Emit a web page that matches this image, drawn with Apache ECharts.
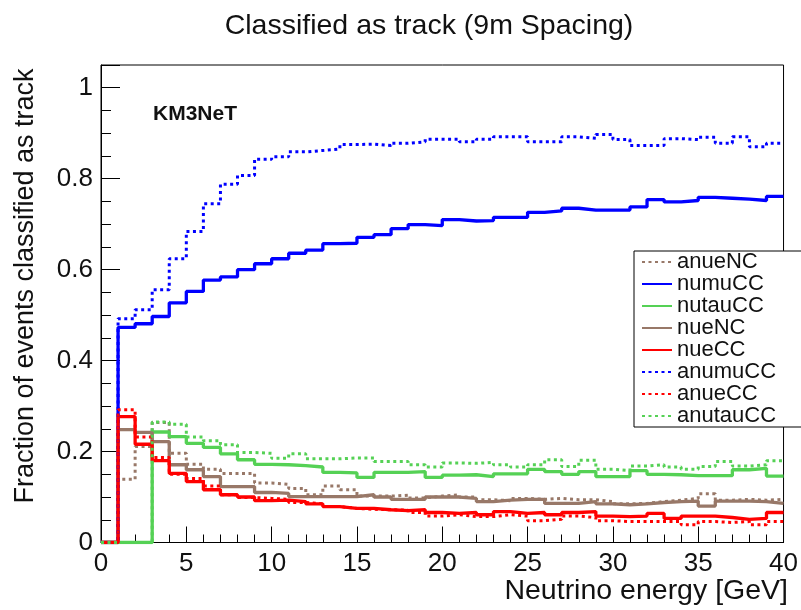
<!DOCTYPE html>
<html>
<head>
<meta charset="utf-8">
<script src="https://cdn.jsdelivr.net/npm/echarts@6.0.0/dist/echarts.min.js"></script>
<style>
html, body { margin: 0; padding: 0; background: #fff; }
#chart { width: 801px; height: 610px; }
</style>
</head>
<body>
<div id="chart"></div>
<script>
// bin low edges, 1 GeV bins from 0 to 40
var binEdges = []
for (var e = 0; e <= 40; e++) binEdges.push(e)

var anueNC = [0, 0.139, 0.211, 0.264, 0.196, 0.172, 0.161, 0.152, 0.152, 0.131,
  0.128, 0.119, 0.105, 0.124, 0.116, 0.102, 0.102, 0.104, 0.098, 0.102,
  0.105, 0.100, 0.094, 0.092, 0.097, 0.095, 0.097, 0.094, 0.094, 0.090,
  0.085, 0.086, 0.090, 0.093, 0.097, 0.107, 0.093, 0.095, 0.093, 0.095]
var numuCC = [0, 0.473, 0.481, 0.497, 0.527, 0.552, 0.577, 0.584, 0.600, 0.613,
  0.624, 0.636, 0.643, 0.657, 0.658, 0.671, 0.677, 0.690, 0.699, 0.697,
  0.710, 0.707, 0.708, 0.715, 0.715, 0.726, 0.729, 0.735, 0.731, 0.731,
  0.731, 0.738, 0.754, 0.749, 0.752, 0.759, 0.757, 0.755, 0.752, 0.761]
var nutauCC = [0, 0, 0, 0.243, 0.233, 0.218, 0.209, 0.195, 0.182, 0.172,
  0.171, 0.169, 0.166, 0.154, 0.153, 0.143, 0.154, 0.154, 0.156, 0.143,
  0.148, 0.149, 0.145, 0.151, 0.151, 0.161, 0.156, 0.150, 0.156, 0.145,
  0.145, 0.158, 0.150, 0.149, 0.147, 0.147, 0.147, 0.160, 0.163, 0.146]
var nueNC = [0, 0.248, 0.242, 0.222, 0.171, 0.160, 0.145, 0.123, 0.123, 0.110,
  0.108, 0.101, 0.101, 0.101, 0.101, 0.105, 0.100, 0.095, 0.095, 0.100,
  0.100, 0.097, 0.090, 0.093, 0.095, 0.095, 0.086, 0.086, 0.090, 0.085,
  0.083, 0.085, 0.088, 0.090, 0.091, 0.080, 0.091, 0.091, 0.090, 0.086]
var nueCC = [0, 0.277, 0.216, 0.180, 0.152, 0.134, 0.116, 0.105, 0.100, 0.092,
  0.093, 0.090, 0.085, 0.079, 0.075, 0.075, 0.072, 0.070, 0.072, 0.066,
  0.064, 0.066, 0.061, 0.068, 0.064, 0.066, 0.061, 0.066, 0.068, 0.058,
  0.057, 0.058, 0.064, 0.053, 0.058, 0.058, 0.055, 0.051, 0.053, 0.066]
var anumuCC = [0, 0.492, 0.512, 0.556, 0.624, 0.684, 0.745, 0.788, 0.807, 0.843,
  0.848, 0.859, 0.862, 0.865, 0.875, 0.876, 0.873, 0.878, 0.881, 0.887,
  0.887, 0.881, 0.887, 0.892, 0.892, 0.881, 0.881, 0.892, 0.889, 0.897,
  0.886, 0.873, 0.873, 0.888, 0.886, 0.891, 0.878, 0.892, 0.870, 0.878]
var anueCC = [0, 0.292, 0.232, 0.187, 0.150, 0.141, 0.124, 0.105, 0.099, 0.097,
  0.095, 0.088, 0.085, 0.079, 0.075, 0.073, 0.072, 0.071, 0.066, 0.058,
  0.061, 0.057, 0.057, 0.061, 0.058, 0.048, 0.051, 0.058, 0.055, 0.048,
  0.046, 0.046, 0.046, 0.046, 0.039, 0.046, 0.044, 0.046, 0.039, 0.046]
var anutauCC = [0, 0, 0, 0.265, 0.260, 0.232, 0.224, 0.215, 0.198, 0.196,
  0.185, 0.195, 0.184, 0.184, 0.186, 0.186, 0.178, 0.178, 0.171, 0.166,
  0.175, 0.174, 0.176, 0.171, 0.166, 0.171, 0.182, 0.167, 0.181, 0.161,
  0.158, 0.168, 0.171, 0.166, 0.161, 0.167, 0.178, 0.168, 0.171, 0.180]

var xTicks = [0, 5, 10, 15, 20, 25, 30, 35, 40]
var yTicks = [0, 0.2, 0.4, 0.6, 0.8, 1]

var FONT = 'Liberation Sans'
var BLUE = '#0000ff'
var RED = '#ff0000'
var GREEN = '#55d155'
var BROWN = '#987868'
var DOTS = [3, 3.5]

// histogram -> step line: point at each low edge, plus the last high edge
function toSteps(vals) {
  var pts = []
  for (var i = 0; i < vals.length; i++) pts.push([binEdges[i], vals[i]])
  pts.push([binEdges[vals.length], vals[vals.length - 1]])
  return pts
}

function hist(name, vals, color, dotted) {
  return {
    name: name,
    type: 'line',
    step: 'end',
    symbol: 'none',
    xAxisIndex: 0,
    yAxisIndex: 0,
    lineStyle: { color: color, width: dotted ? 3 : 3.3, type: dotted ? DOTS : 'solid' },
    itemStyle: { color: color },
    data: toSteps(vals)
  }
}

var chart = echarts.init(document.getElementById('chart'))
var option = {
  animation: false,
  backgroundColor: '#fff',
  title: {
    text: 'Classified as track (9m Spacing)',
    left: 424,
    top: 7,
    textAlign: 'center',
    textStyle: { fontFamily: FONT, fontSize: 28.5, fontWeight: 'normal', color: '#111' }
  },
  grid: {
    left: 101,
    top: 65,
    width: 687,
    height: 477.5,
    show: true,
    borderColor: '#000',
    borderWidth: 1,
    backgroundColor: 'transparent'
  },
  legend: {
    orient: 'vertical',
    left: 634,
    top: 251,
    padding: [0, 60, 0, 7],
    itemGap: 0,
    itemWidth: 30,
    itemHeight: 23.25,
    itemStyle: { opacity: 0 },
    backgroundColor: '#fff',
    borderColor: '#000',
    borderWidth: 1,
    borderRadius: 0,
    z: 10,
    textStyle: { fontFamily: FONT, fontSize: 22, color: '#111' },
    data: ['anueNC', 'numuCC', 'nutauCC', 'nueNC', 'nueCC', 'anumuCC', 'anueCC', 'anutauCC']
  },
  xAxis: {
    type: 'value',
    min: xTicks[0],
    max: xTicks[xTicks.length - 1],
    interval: 5,
    axisLine: { show: true, lineStyle: { color: '#000', width: 1 } },
    axisTick: { show: true, inside: true, length: 16, lineStyle: { color: '#000' } },
    minorTick: { show: true, splitNumber: 5, length: 8, lineStyle: { color: '#000' } },
    axisLabel: { fontFamily: FONT, fontSize: 26, color: '#111', margin: 8 },
    splitLine: { show: false }
  },
  yAxis: [
    {
      type: 'value',
      min: 0,
      max: 1.05,
      interval: 0.2,
      axisLine: { show: true, lineStyle: { color: '#000', width: 1 } },
      axisTick: { show: true, inside: true, length: 19, lineStyle: { color: '#000' } },
      axisLabel: {
        fontFamily: FONT, fontSize: 26, color: '#111', margin: 8,
        formatter: function (v) {
          for (var i = 0; i < yTicks.length; i++) {
            if (Math.abs(v - yTicks[i]) < 1e-6) return String(yTicks[i])
          }
          return ''
        }
      },
      splitLine: { show: false }
    },
    {
      // minor ticks every 0.05
      type: 'value',
      position: 'left',
      min: 0,
      max: 1.05,
      interval: 0.05,
      axisLine: { show: false },
      axisTick: { show: true, inside: true, length: 10, lineStyle: { color: '#000' } },
      axisLabel: { show: false },
      splitLine: { show: false }
    }
  ],
  graphic: [
    {
      type: 'text',
      left: 153,
      top: 104,
      style: { text: 'KM3NeT', fontFamily: FONT, fontSize: 21, fontWeight: 'bold', fill: '#111' }
    },
    {
      type: 'text',
      x: 26,
      y: 286,
      rotation: Math.PI / 2,
      style: {
        text: 'Fraction of events classified as track',
        fontFamily: FONT, fontSize: 27, fill: '#111',
        align: 'center', verticalAlign: 'middle'
      }
    },
    {
      type: 'text',
      x: 788,
      y: 591,
      style: {
        text: 'Neutrino energy [GeV]',
        fontFamily: FONT, fontSize: 28.5, fill: '#111',
        align: 'right', verticalAlign: 'middle'
      }
    }
  ],
  series: [
    hist('anueNC', anueNC, BROWN, true),
    hist('numuCC', numuCC, BLUE, false),
    hist('nutauCC', nutauCC, GREEN, false),
    hist('nueNC', nueNC, BROWN, false),
    hist('nueCC', nueCC, RED, false),
    hist('anumuCC', anumuCC, BLUE, true),
    hist('anueCC', anueCC, RED, true),
    hist('anutauCC', anutauCC, GREEN, true)
  ]
}
chart.setOption(option)
</script>
</body>
</html>
